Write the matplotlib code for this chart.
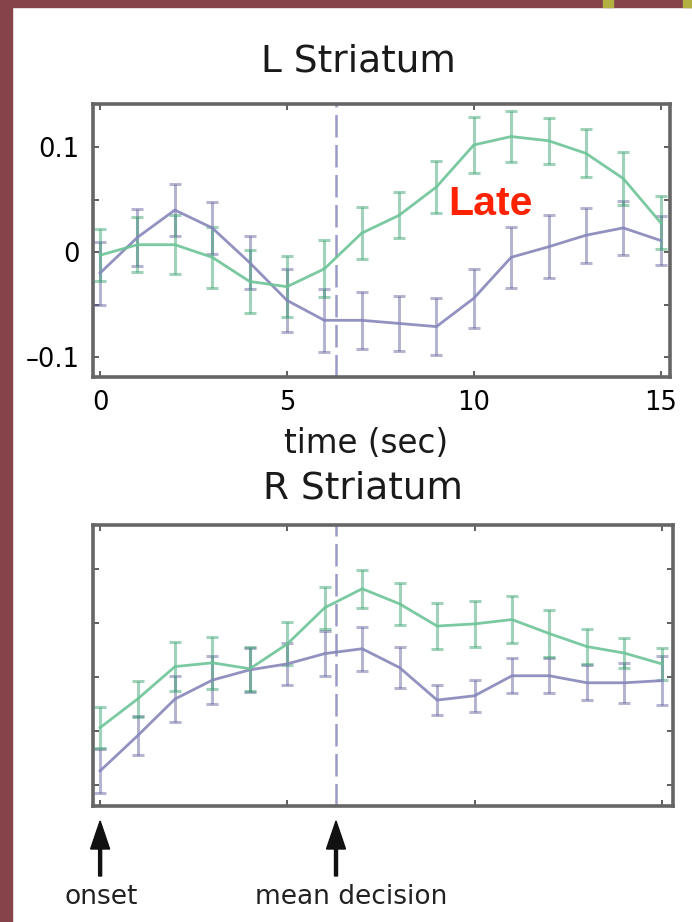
import matplotlib
matplotlib.use("Agg")
import matplotlib.pyplot as plt
from matplotlib.patches import Rectangle, FancyArrow

# ---------------- data ----------------
time = list(range(16))

# L Striatum
l_late_mean = [-0.003, 0.007, 0.007, -0.005, -0.028, -0.033, -0.016, 0.018, 0.035, 0.062,
               0.102, 0.110, 0.106, 0.094, 0.070, 0.028]
l_late_err = [0.025, 0.026, 0.028, 0.029, 0.030, 0.029, 0.027, 0.025, 0.022, 0.025,
              0.027, 0.024, 0.022, 0.023, 0.025, 0.025]
l_early_mean = [-0.020, 0.014, 0.040, 0.023, -0.010, -0.046, -0.065, -0.065, -0.068, -0.071,
                -0.044, -0.005, 0.005, 0.016, 0.023, 0.011]
l_early_err = [0.030, 0.027, 0.025, 0.025, 0.025, 0.030, 0.030, 0.027, 0.026, 0.027,
               0.028, 0.029, 0.030, 0.026, 0.026, 0.023]

# R Striatum (arbitrary units, unlabeled axis)
r_late_mean = [1.06, 1.59, 2.19, 2.26, 2.15, 2.61, 3.28, 3.63, 3.35, 2.94,
               2.98, 3.06, 2.80, 2.56, 2.44, 2.24]
r_late_err = [0.38, 0.34, 0.45, 0.48, 0.41, 0.40, 0.39, 0.35, 0.39, 0.42,
              0.43, 0.43, 0.44, 0.32, 0.28, 0.29]
r_early_mean = [0.26, 0.91, 1.59, 1.94, 2.13, 2.24, 2.43, 2.52, 2.17, 1.57,
                1.65, 2.02, 2.02, 1.89, 1.89, 1.93]
r_early_err = [0.41, 0.36, 0.42, 0.45, 0.41, 0.39, 0.42, 0.41, 0.38, 0.28,
               0.30, 0.32, 0.32, 0.32, 0.37, 0.46]

mean_decision = 6.3
x_ticks = [0, 5, 10, 15]
x_ticklabels = ["0", "5", "10", "15"]
l_yticks = [-0.1, -0.05, 0, 0.05, 0.1]
l_yticklabels = ["\u20130.1", "", "0", "", "0.1"]
r_yticks = [0, 1, 2, 3, 4]

# ---------------- style ----------------
W, H = 692, 922
fig = plt.figure(figsize=(W / 100, H / 100), dpi=100)
fig.patch.set_facecolor("white")

maroon = "#86444a"
fig.add_artist(Rectangle((0, 0), 12 / W, 1, transform=fig.transFigure, color=maroon, zorder=0))
fig.add_artist(Rectangle((0, 1 - 7 / H), 1, 7 / H, transform=fig.transFigure, color=maroon, zorder=0))
fig.add_artist(Rectangle((603 / W, 1 - 7 / H), 10 / W, 7 / H, transform=fig.transFigure,
                         color="#b2b040", zorder=1))
fig.add_artist(Rectangle((683 / W, 1 - 7 / H), 9 / W, 7 / H, transform=fig.transFigure,
                         color="#b2b040", zorder=1))

green_line = "#6cc497"
green_err = "#2f9e66"
blue_line = "#8686ba"
blue_err = "#5c5c9c"
spine_col = "#666666"
font = "DejaVu Sans"
tick_fs = 18.5


def ax_rect(l, t, r, b):
    return [l / W, 1 - b / H, (r - l) / W, (b - t) / H]


def style(ax):
    for s in ax.spines.values():
        s.set_color(spine_col)
        s.set_linewidth(2.6)
    ax.tick_params(direction="in", length=4, width=1.2, color="#444444",
                   top=True, right=True, labelsize=tick_fs)
    ax.tick_params(axis="y", pad=9.5)
    ax.tick_params(axis="x", pad=9)
    ax.set_xticks(x_ticks)


def draw(ax, t, m1, e1, m2, e2):
    ax.errorbar(t, m2, yerr=e2, color=blue_err, alpha=0.45, elinewidth=2.2,
                capsize=4.5, capthick=2.2, fmt="none", zorder=3)
    ax.plot(t, m2, color=blue_line, lw=2.0, alpha=0.9, zorder=4)
    ax.errorbar(t, m1, yerr=e1, color=green_err, alpha=0.45, elinewidth=2.2,
                capsize=4.5, capthick=2.2, fmt="none", zorder=3)
    ax.plot(t, m1, color=green_line, lw=2.0, alpha=0.9, zorder=4)
    ax.axvline(mean_decision, color="#9a9ac8", lw=1.8, dashes=(9, 3), zorder=2)


# ---------------- top panel ----------------
ax1 = fig.add_axes(ax_rect(93, 104, 670, 377))
draw(ax1, time, l_late_mean, l_late_err, l_early_mean, l_early_err)
ax1.set_xlim(-0.19, 15.25)
ax1.set_ylim(-0.119, 0.141)
style(ax1)
ax1.set_yticks(l_yticks)
ax1.set_yticklabels(l_yticklabels, fontfamily=font, fontsize=tick_fs)
ax1.set_xticklabels(x_ticklabels, fontfamily=font, fontsize=tick_fs)
ax1.text(10.45, 0.046, "Late", color="#ff2200", fontsize=29.5, fontweight="bold",
         fontfamily="Liberation Sans", ha="center", va="center", zorder=6)

fig.text(358 / W, 1 - 62 / H, "L Striatum", fontfamily=font, fontsize=27,
         ha="center", va="center", color="#1a1a1a")
fig.text(366 / W, 1 - 443 / H, "time (sec)", fontfamily=font, fontsize=23.5,
         ha="center", va="center", color="#1a1a1a")

# ---------------- bottom panel ----------------
ax2 = fig.add_axes(ax_rect(93, 525, 673, 806))
draw(ax2, time, r_late_mean, r_late_err, r_early_mean, r_early_err)
ax2.set_xlim(-0.19, 15.3)
ax2.set_ylim(-0.39, 4.81)
style(ax2)
ax2.set_yticks(r_yticks)
ax2.set_yticklabels([])
ax2.set_xticklabels([])

fig.text(363 / W, 1 - 488 / H, "R Striatum", fontfamily=font, fontsize=27,
         ha="center", va="center", color="#1a1a1a")

# ---------------- annotations ----------------
for xd in [0, mean_decision]:
    xf = ax2.transData.transform((xd, 0))[0] / W
    fig.add_artist(FancyArrow(
        xf, 1 - 876 / H, 0, (876 - 821) / H, width=3.0 / W,
        head_width=19 / W, head_length=28 / H, length_includes_head=True,
        color="#111111", transform=fig.transFigure))

fig.text(101 / W, 1 - 897 / H, "onset", fontfamily=font, fontsize=19,
         ha="center", va="center", color="#222222")
fig.text(351 / W, 1 - 897 / H, "mean decision", fontfamily=font, fontsize=19,
         ha="center", va="center", color="#222222")

fig.savefig("out.png", dpi=100, facecolor="white")
